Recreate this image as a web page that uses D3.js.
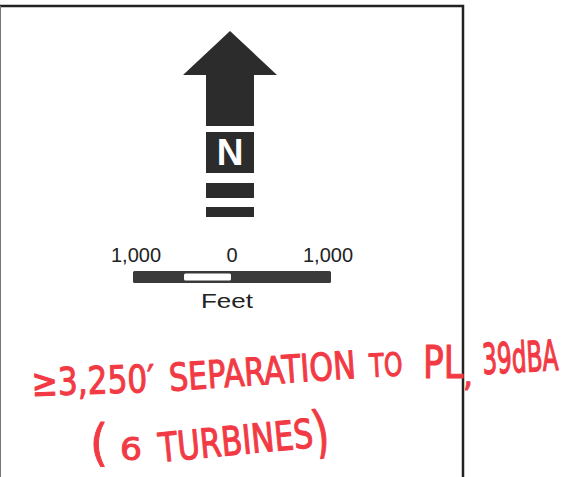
<!DOCTYPE html>
<meta charset="utf-8">
<script src="https://d3js.org/d3.v7.min.js"></script>
<style>
  body { margin: 0; background: #fff; }
</style>
<div id="my_dataviz"></div>
<script>

// scale bar: tick values (feet) and their labels
var scaleFeet = [-1000, 0, 1000];
var scaleLabels = ["1,000", "0", "1,000"];
var scaleUnit = "Feet";
// the white block of the bar runs between these values
var scaleWhite = [-500, 0];

// north arrow label
var northLabel = "N";

// handwritten notes, word by word
var noteLine1 = ["\u22653,250\u2032", "SEPARATION", "TO", "PL", ",", "39dBA"];
var noteLine2 = ["(", "6", "TURBINES", ")"];

var width = 573, height = 477;
var ink = "#2c2c2c", red = "#f23a45";

var svg = d3.select("#my_dataviz")
  .append("svg")
    .attr("width", width)
    .attr("height", height);

svg.append("rect").attr("width", width).attr("height", height).attr("fill", "#fff");

// map frame (top, right and faint left edge)
svg.append("path")
  .attr("d", "M0,6 H463 V477")
  .attr("fill", "none")
  .attr("stroke", "#222")
  .attr("stroke-width", 2.5);
svg.append("line")
  .attr("x1", 0.5).attr("x2", 0.5).attr("y1", 6).attr("y2", 477)
  .attr("stroke", "#777").attr("stroke-width", 1);

// ---- north arrow ----
var cx = 230, halfHead = 47, halfShaft = 24;
var tipY = 31, headY = 75, shaftY = 126;
var arrow = svg.append("g").attr("fill", ink);
arrow.append("path")
  .attr("d", d3.line()([
    [cx, tipY], [cx + halfHead, headY], [cx + halfShaft, headY], [cx + halfShaft, shaftY],
    [cx - halfShaft, shaftY], [cx - halfShaft, headY], [cx - halfHead, headY]
  ]) + "Z");
arrow.append("rect")
  .attr("x", cx - halfShaft).attr("y", 132)
  .attr("width", halfShaft * 2).attr("height", 41);
arrow.append("text")
  .attr("x", cx).attr("y", 165)
  .attr("text-anchor", "middle")
  .attr("font-family", "Liberation Sans, Arial, sans-serif")
  .attr("font-weight", "bold")
  .attr("font-size", 37)
  .attr("fill", "#fff")
  .text(northLabel);
arrow.append("rect")
  .attr("x", cx - halfShaft).attr("y", 183)
  .attr("width", halfShaft * 2).attr("height", 15);
arrow.append("rect")
  .attr("x", cx - halfShaft).attr("y", 207)
  .attr("width", halfShaft * 2).attr("height", 10);

// ---- scale bar ----
var x = d3.scaleLinear().domain([-1000, 1000]).range([136, 328]);

svg.append("rect")
  .attr("x", x(-1000) - 3).attr("y", 271)
  .attr("width", x(1000) - x(-1000) + 6).attr("height", 12)
  .attr("rx", 1.5)
  .attr("fill", "#3a3a3a");
svg.append("rect")
  .attr("x", x(scaleWhite[0])).attr("y", 273.5)
  .attr("width", x(scaleWhite[1]) - x(scaleWhite[0]) - 1).attr("height", 7)
  .attr("rx", 1.5)
  .attr("fill", "#fff");

svg.selectAll(".scaleLabel")
  .data(scaleFeet)
  .enter()
  .append("text")
    .attr("class", "scaleLabel")
    .attr("x", function(d) { return x(d); })
    .attr("y", 262)
    .attr("text-anchor", "middle")
    .attr("font-family", "Liberation Sans, Arial, sans-serif")
    .attr("font-size", 20)
    .attr("fill", "#222")
    .text(function(d, i) { return scaleLabels[i]; });

svg.append("text")
  .attr("x", 201).attr("y", 308)
  .attr("textLength", 52)
  .attr("lengthAdjust", "spacingAndGlyphs")
  .attr("font-family", "Liberation Sans, Arial, sans-serif")
  .attr("font-size", 20)
  .attr("fill", "#222")
  .text(scaleUnit);

// ---- handwritten notes ----
// placement of each word: x, baseline, fitted width, font size, tilt
var place1 = [
  [32, 396, 123, 38, -2],
  [170, 391, 187, 38, -4],
  [370, 377, 33, 32, -3],
  [423, 378, 40, 44, 0],
  [463, 386, 10, 34, 0],
  [483, 374, 76, 42, -3]
];
var place2 = [
  [90, 460, 18, 50, 0],
  [120, 460, 22, 32, 0],
  [160, 462, 155, 40, -5.5],
  [316, 452, 16, 56, -10]
];

function drawNote(words, place) {
  svg.append("g")
    .selectAll("text")
    .data(words)
    .enter()
    .append("text")
      .attr("font-family", "DejaVu Sans, sans-serif")
      .attr("font-size", function(d, i) { return place[i][3]; })
      .attr("fill", red)
      .attr("stroke", red)
      .attr("stroke-width", 1)
      .attr("stroke-linejoin", "round")
      .text(function(d) { return d; })
      // squeeze each word to its width with a horizontal scale
      .attr("transform", function(d, i) {
        var p = place[i];
        var natural = this.getComputedTextLength();
        var sx = p[2] / natural;
        return "translate(" + p[0] + "," + p[1] + ") rotate(" + p[4] + ") scale(" + sx + ",1)";
      })
      .attr("stroke-width", function(d, i) {
        return 1 / Math.sqrt(place[i][2] / this.getComputedTextLength());
      });
}

drawNote(noteLine1, place1);
drawNote(noteLine2, place2);

</script>
